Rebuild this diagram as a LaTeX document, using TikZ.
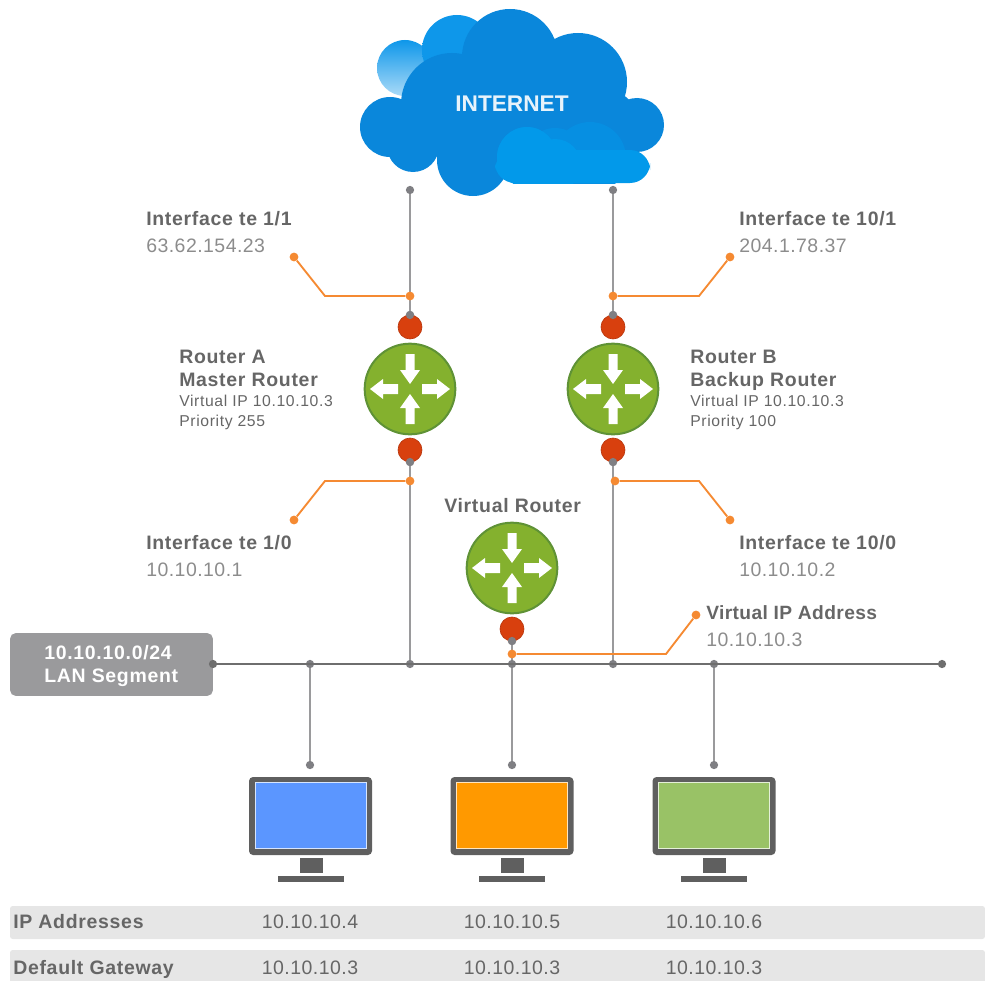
\documentclass[tikz,border=0pt]{standalone}
\usepackage{fontspec}
\setmainfont{Liberation Sans}
\usetikzlibrary{calc}
\definecolor{cloudmain}{HTML}{0A87DB}
\definecolor{cloudlite}{HTML}{0299EA}
\definecolor{cloudback}{HTML}{0E97EA}
\definecolor{linegrey}{HTML}{9A9A9C}
\definecolor{dotgrey}{HTML}{7F7F83}
\definecolor{lanline}{HTML}{6E6E6E}
\definecolor{wire}{HTML}{F58A32}
\definecolor{redport}{HTML}{D8400E}
\definecolor{routergreen}{HTML}{84B12E}
\definecolor{routeredge}{HTML}{5F9236}
\definecolor{txtdark}{HTML}{666666}
\definecolor{txtlight}{HTML}{8C8C8C}
\definecolor{bezel}{HTML}{5F5F5F}
\definecolor{barfill}{HTML}{E6E6E6}
\definecolor{scrblue}{HTML}{5B96FF}
\definecolor{scrorange}{HTML}{FF9900}
\definecolor{scrgreen}{HTML}{99C266}
\newfontfamily\headfont[LetterSpace=3.6,BoldFont={Liberation Sans Bold}]{Liberation Sans}
\newfontfamily\tightfont[LetterSpace=2,BoldFont={Liberation Sans Bold}]{Liberation Sans}
\newfontfamily\valfont[LetterSpace=2.4]{Liberation Sans}
\newfontfamily\smallfont[LetterSpace=4]{Liberation Sans}
\tikzset{
  x=0.75pt,y=-0.75pt,
  routerbody/.style={circle,fill=routergreen,draw=routeredge,line width=1.5pt,minimum size=68pt,inner sep=0pt},
  portdot/.style={circle,fill=redport,draw=redport!85!black,line width=.5pt,minimum size=18pt,inner sep=0pt},
  greydot/.style={circle,fill=dotgrey,minimum size=6.2pt,inner sep=0pt},
  lanjoint/.style={circle,fill=lanline,minimum size=6.2pt,inner sep=0pt},
  orangedot/.style={circle,fill=wire,minimum size=6.6pt,inner sep=0pt},
  vline/.style={draw=linegrey,line width=1.5pt},
  wireline/.style={draw=wire,line width=1.4pt},
  headtxt/.style={anchor=base west,inner sep=0pt,text=txtdark,font=\headfont\bfseries\fontsize{14.6}{14.6}\selectfont},
  valtxt/.style={anchor=base west,inner sep=0pt,text=txtlight,font=\valfont\fontsize{14.6}{14.6}\selectfont},
  smalltxt/.style={anchor=base west,inner sep=0pt,text=txtdark,font=\smallfont\fontsize{11.8}{11.8}\selectfont},
  cellval/.style={anchor=base,inner sep=0pt,text=txtdark,font=\valfont\fontsize{14.6}{14.6}\selectfont},
  cellhead/.style={anchor=base west,inner sep=0pt,text=txtdark,font=\headfont\bfseries\fontsize{14.6}{14.6}\selectfont},
}
\newcommand{\routerarrows}[1]{%
  \foreach \ang in {0,180}{
    \fill[white,rotate around={\ang:(#1)}] ($(#1)+(12,-5)$) -- ($(#1)+(27,-5)$) -- ($(#1)+(27,-10)$) -- ($(#1)+(40,0)$) -- ($(#1)+(27,10)$) -- ($(#1)+(27,5)$) -- ($(#1)+(12,5)$) -- cycle;
  }
  \foreach \ang in {90,270}{
    \fill[white,rotate around={\ang:(#1)}] ($(#1)+(35,-4.5)$) -- ($(#1)+(19,-4.5)$) -- ($(#1)+(19,-10)$) -- ($(#1)+(5,0)$) -- ($(#1)+(19,10)$) -- ($(#1)+(19,4.5)$) -- ($(#1)+(35,4.5)$) -- cycle;
  }}
\newcommand{\monitor}[2]{%
  \fill[bezel,rounded corners=3pt] ($(#1)+(-61.5,0)$) rectangle ($(#1)+(61.5,78)$);
  \fill[white!75!#2] ($(#1)+(-56,5)$) rectangle ($(#1)+(56,72)$);
  \fill[#2] ($(#1)+(-55,6)$) rectangle ($(#1)+(55,71)$);
  \fill[bezel] ($(#1)+(-11,81)$) rectangle ($(#1)+(12,96)$);
  \fill[bezel] ($(#1)+(-33,99)$) rectangle ($(#1)+(33,105)$);
}
\begin{document}
\begin{tikzpicture}
\useasboundingbox (0,0) rectangle (985,981);
% cloud
\shade[top color=cloudback,bottom color=cloudback!35!white] (405,68) circle[radius=28];
\shade[top color=cloudback,bottom color=cloudback] (457,50) circle[radius=35];
\fill[cloudmain]
  (510,57) circle[radius=48] (578,82) circle[radius=49] (637,125) circle[radius=27]
  (390,127) circle[radius=30] (413,146) circle[radius=26] (473,160) circle[radius=36]
  (452,104) circle[radius=51] (530,120) circle[radius=55] (600,130) circle[radius=42];
\begin{scope}
  \clip (480,100) rectangle (660,183);
  \fill[cloudlite!45!cloudmain] (527,157) circle[radius=30] (590,158) circle[radius=36] (555,158) circle[radius=30];
\end{scope}
\fill[cloudlite,rounded corners=15pt] (495,150) rectangle (650,183);
\begin{scope}
  \clip (480,100) rectangle (660,183);
  \fill[cloudlite] (527,157) circle[radius=30];
  \fill[cloudlite] (555,165) circle[radius=26];
\end{scope}
\node[inner sep=0pt,text=white!90!cloudmain,font=\bfseries\fontsize{17}{17}\selectfont] (inet) at (512,104) {INTERNET};

% table bars
\fill[barfill,rounded corners=2pt] (10,906) rectangle (985,939);
\fill[barfill,rounded corners=2pt] (10,950) rectangle (985,990);

% LAN box
\node[fill=linegrey,rounded corners=4pt,minimum width=152pt,minimum height=47pt,inner sep=0pt] (lan) at (111.5,664.5) {};
\node[headtxt,text=white] (lan1) at (44,659) {10.10.10.0/24};
\node[headtxt,text=white] (lan2) at (44,682) {LAN Segment};

% named points
\node[greydot] (atop) at (410,190) {};
\node[greydot] (btop) at (613,190) {};
\node[greydot] (aup) at (410,315) {};
\node[greydot] (bup) at (613,315) {};
\node[greydot] (adn) at (410,462) {};
\node[greydot] (bdn) at (613,462) {};
\node[greydot] (vdn) at (512,641) {};
\node[lanjoint] (lanl) at (213,664) {};
\node[lanjoint] (lanr) at (942,664) {};
\node[greydot] (j1) at (310,664) {};
\node[greydot] (j2) at (410,664) {};
\node[greydot] (j3) at (512,664) {};
\node[greydot] (j4) at (613,664) {};
\node[greydot] (j5) at (714,664) {};
\node[greydot] (pc1) at (310,765) {};
\node[greydot] (pc2) at (512,765) {};
\node[greydot] (pc3) at (714,765) {};

% wires
\draw[vline] (atop) -- (aup);
\draw[vline] (btop) -- (bup);
\draw[vline] (adn) -- (j2);
\draw[vline] (bdn) -- (j4);
\draw[vline] (vdn) -- (j3);
\draw[draw=lanline,line width=1.2pt] (lanl) -- (lanr);
\draw[vline] (j1) -- (pc1);
\draw[vline] (j3) -- (pc2);
\draw[vline] (j5) -- (pc3);

% routers
\node[routerbody] (ra) at (410,389) {};
\node[routerbody] (rb) at (613,389) {};
\node[routerbody] (rv) at (512,568) {};
\routerarrows{ra}
\routerarrows{rb}
\routerarrows{rv}
\node[portdot] (pa1) at (410,327) {};
\node[portdot] (pa2) at (410,450) {};
\node[portdot] (pb1) at (613,327) {};
\node[portdot] (pb2) at (613,450) {};
\node[portdot] (pv) at (512,629) {};
\node[greydot] at (aup) {};
\node[greydot] at (bup) {};
\node[greydot] at (adn) {};
\node[greydot] at (bdn) {};
\node[greydot] at (vdn) {};

% orange callouts
\node[orangedot] (oa1) at (410,296) {};
\node[orangedot] (ea1) at (294,257) {};
\node[orangedot] (ob1) at (613,296) {};
\node[orangedot] (eb1) at (730,257) {};
\node[orangedot] (oa2) at (410,481) {};
\node[orangedot] (ea2) at (294,520) {};
\node[orangedot] (ob2) at (615,481) {};
\node[orangedot] (eb2) at (730,520) {};
\node[orangedot] (ov) at (512,654) {};
\node[orangedot] (ev) at (696,615) {};
\coordinate (ca1) at (325,296);
\coordinate (cb1) at (699,296);
\coordinate (ca2) at (325,481);
\coordinate (cb2) at (699,481);
\coordinate (cv) at (666,654);
\draw[wireline] (oa1) -- (ca1) -- (ea1);
\draw[wireline] (ob1) -- (cb1) -- (eb1);
\draw[wireline] (oa2) -- (ca2) -- (ea2);
\draw[wireline] (ob2) -- (cb2) -- (eb2);
\draw[wireline] (ov) -- (cv) -- (ev);

% labels
\node[headtxt] (t1) at (146,225) {Interface te 1/1};
\node[valtxt] (t2) at (146,252) {63.62.154.23};
\node[headtxt] (t3) at (739,225) {Interface te 10/1};
\node[valtxt] (t4) at (739,252) {204.1.78.37};
\node[headtxt] (t5) at (146,549) {Interface te 1/0};
\node[valtxt] (t6) at (146,576) {10.10.10.1};
\node[headtxt] (t7) at (739,549) {Interface te 10/0};
\node[valtxt] (t8) at (739,576) {10.10.10.2};
\node[headtxt,font=\tightfont\bfseries\fontsize{14.4}{14.4}\selectfont] (t9) at (706,619) {Virtual IP Address};
\node[valtxt] (t10) at (706,646) {10.10.10.3};
\node[headtxt] (t11) at (444,512) {Virtual Router};
\node[headtxt] (a1) at (179,363) {Router A};
\node[headtxt] (a2) at (179,386) {Master Router};
\node[smalltxt] (a3) at (179,406) {Virtual IP 10.10.10.3};
\node[smalltxt] (a4) at (179,426) {Priority 255};
\node[headtxt] (b1) at (690,363) {Router B};
\node[headtxt] (b2) at (690,386) {Backup Router};
\node[smalltxt] (b3) at (690,406) {Virtual IP 10.10.10.3};
\node[smalltxt] (b4) at (690,426) {Priority 100};

% monitors
\coordinate (m1) at (310.5,777);
\coordinate (m2) at (512,777);
\coordinate (m3) at (714,777);
\monitor{m1}{scrblue}
\monitor{m2}{scrorange}
\monitor{m3}{scrgreen}

% table text
\node[cellhead] (h1) at (13,928) {IP Addresses};
\node[cellhead] (h2) at (13,974) {Default Gateway};
\node[cellval] (c1) at (310,928) {10.10.10.4};
\node[cellval] (c2) at (512,928) {10.10.10.5};
\node[cellval] (c3) at (714,928) {10.10.10.6};
\node[cellval] (c4) at (310,974) {10.10.10.3};
\node[cellval] (c5) at (512,974) {10.10.10.3};
\node[cellval] (c6) at (714,974) {10.10.10.3};
\end{tikzpicture}
\end{document}
